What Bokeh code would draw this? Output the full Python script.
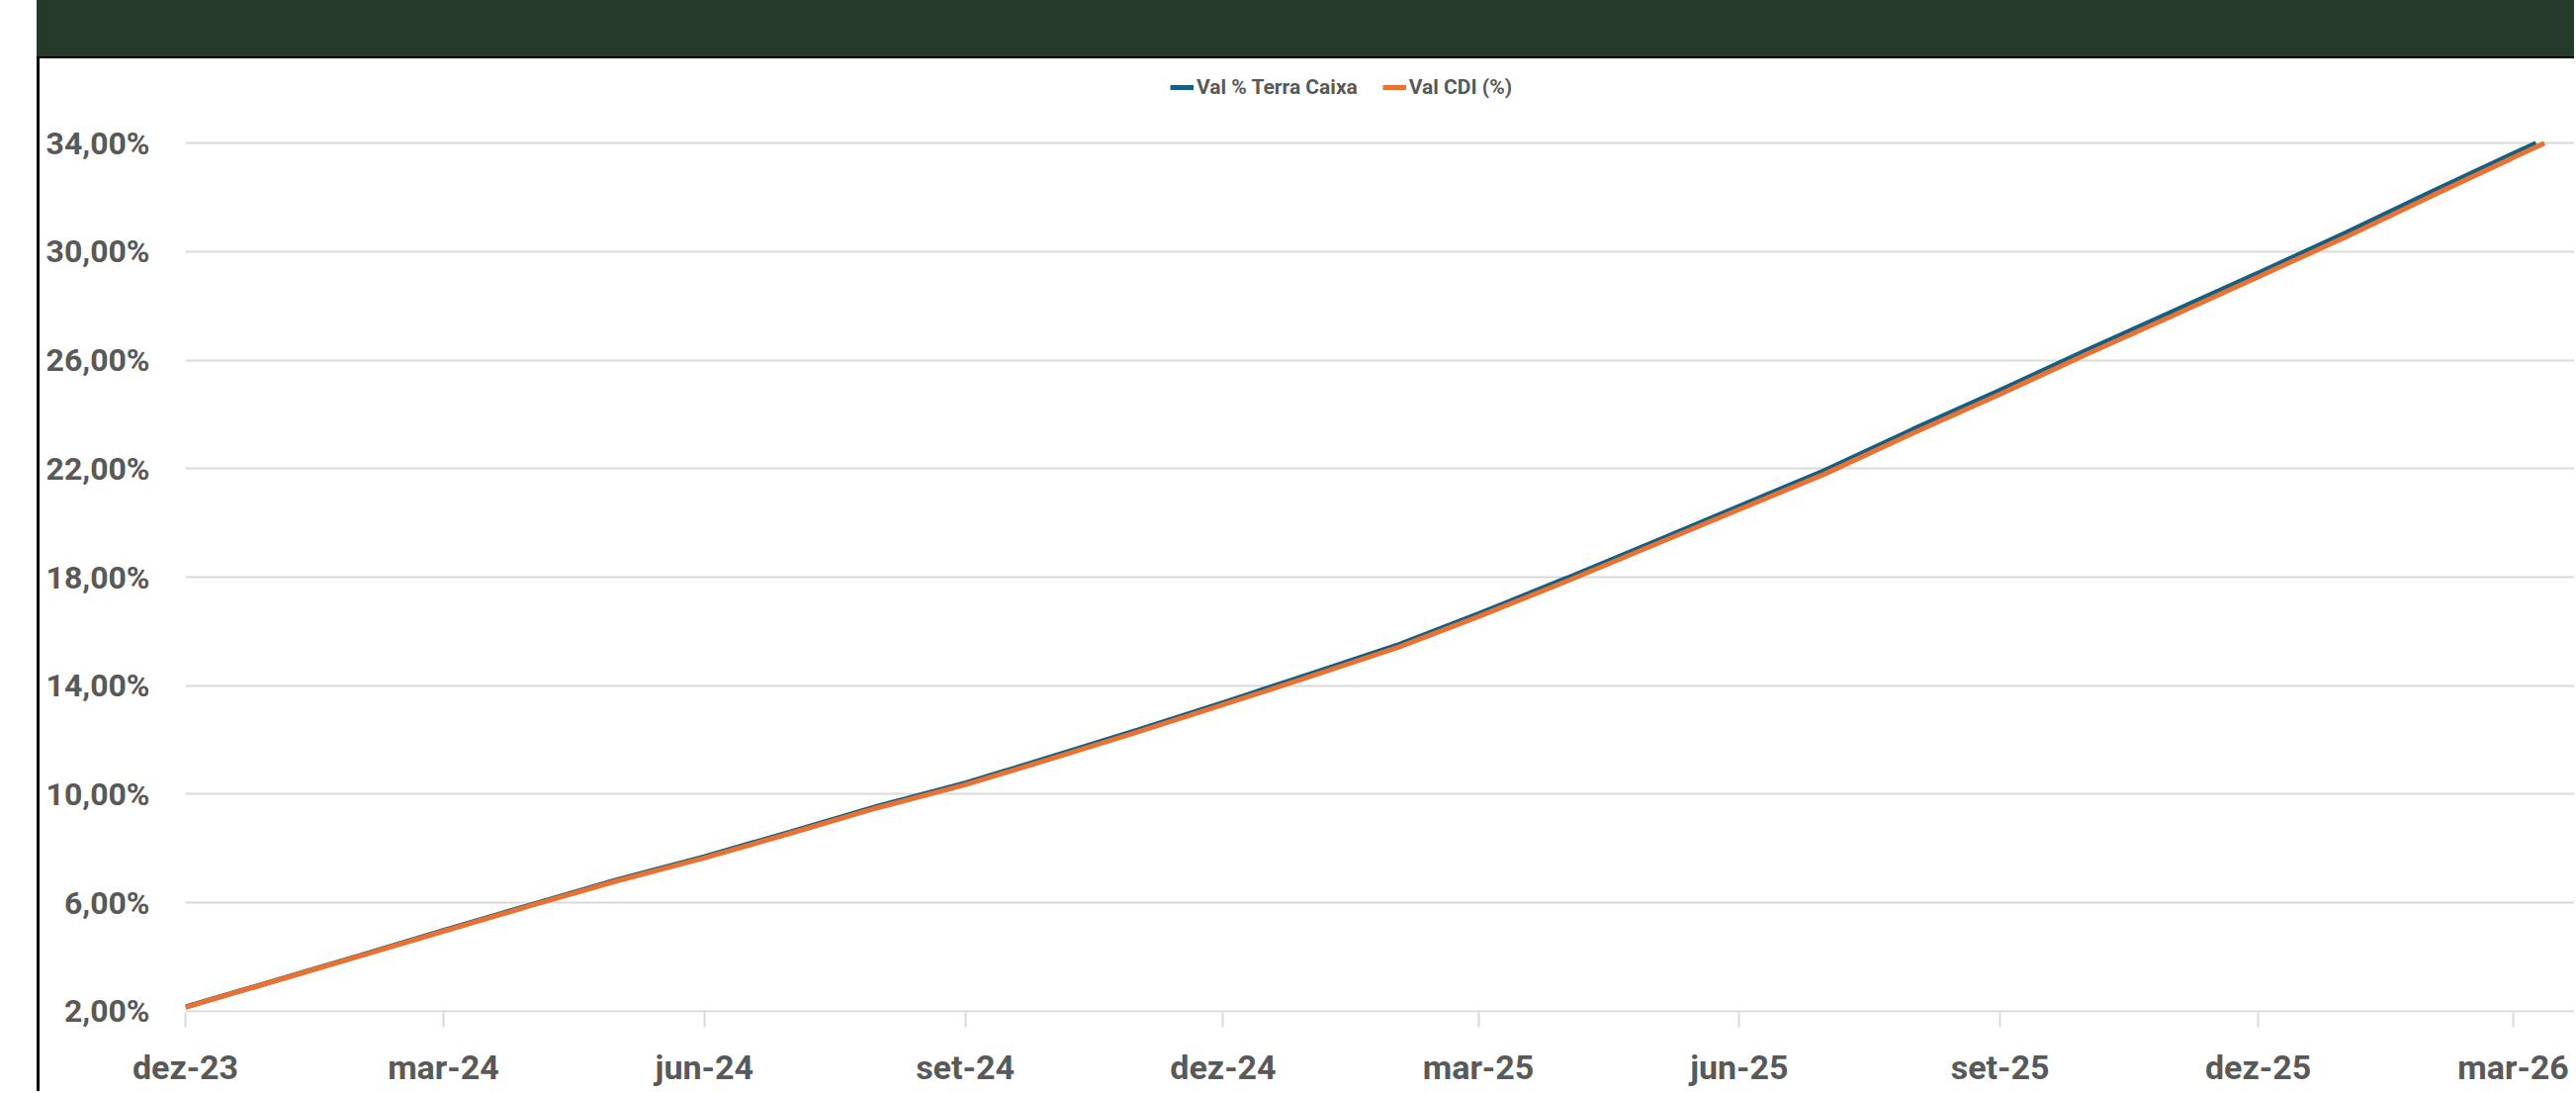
from datetime import datetime
from bokeh.plotting import figure
from bokeh.models import (Range1d, FixedTicker, Legend, LegendItem, Div, Spacer,
                          ColumnDataSource)
from bokeh.layouts import row, column
from bokeh.embed import file_html
from bokeh.resources import INLINE

# ---------------- data ----------------
dates = ["2023-12-01", "2024-01-01", "2024-02-01", "2024-03-01", "2024-04-01", "2024-05-01",
         "2024-06-01", "2024-07-01", "2024-08-01", "2024-09-01", "2024-10-01", "2024-11-01",
         "2024-12-01", "2025-01-01", "2025-02-01", "2025-03-01", "2025-04-01", "2025-05-01",
         "2025-06-01", "2025-07-01", "2025-08-01", "2025-09-01", "2025-10-01", "2025-11-01",
         "2025-12-01", "2026-01-01", "2026-02-01", "2026-03-01"]
val_terra_caixa = [2.16, 3.11, 4.07, 4.98, 5.93, 6.84, 7.70, 8.60, 9.56, 10.41, 11.37, 12.37,
                   13.38, 14.44, 15.52, 16.65, 17.96, 19.26, 20.62, 21.93, 23.44, 24.89, 26.34,
                   27.80, 29.21, 30.70, 32.25, 33.62]
val_cdi = [2.15, 3.10, 4.05, 4.95, 5.90, 6.80, 7.65, 8.55, 9.50, 10.35, 11.30, 12.30,
           13.30, 14.35, 15.43, 16.55, 17.85, 19.15, 20.50, 21.80, 23.30, 24.75, 26.20,
           27.65, 29.07, 30.55, 32.10, 33.47]
# last plotted day of each series (both reach the 34% top line)
terra_last = ("2026-03-09", 34.00)
cdi_last = ("2026-03-12", 34.00)
series_names = ["Val % Terra Caixa", "Val CDI (%)"]
x_tick_dates = ["2023-12-01", "2024-03-01", "2024-06-01", "2024-09-01", "2024-12-01",
                "2025-03-01", "2025-06-01", "2025-09-01", "2025-12-01", "2026-03-01"]
x_tick_labels = ["dez-23", "mar-24", "jun-24", "set-24", "dez-24",
                 "mar-25", "jun-25", "set-25", "dez-25", "mar-26"]
y_ticks = [2, 6, 10, 14, 18, 22, 26, 30, 34]
y_tick_labels = ["2,00%", "6,00%", "10,00%", "14,00%", "18,00%", "22,00%", "26,00%", "30,00%", "34,00%"]

# ---------------- style ----------------
FONT = "Roboto"
BLUE = "#156082"
ORANGE = "#E97132"
GRID = "#D9D9D9"
TXT = "#595959"
HEADER = "#263A2B"

def to_dt(s):
    return datetime.strptime(s, "%Y-%m-%d")

EPOCH = datetime(1970, 1, 1)
def to_ms(s):
    return int((to_dt(s) - EPOCH).total_seconds() * 1000)

src_t = ColumnDataSource(dict(x=[to_dt(d) for d in dates + [terra_last[0]]],
                              y=val_terra_caixa + [terra_last[1]]))
src_c = ColumnDataSource(dict(x=[to_dt(d) for d in dates + [cdi_last[0]]],
                              y=val_cdi + [cdi_last[1]]))

FIG_W, FIG_H = 2563, 1044
p = figure(width=FIG_W, height=FIG_H, x_axis_type="datetime", output_backend="svg",
           toolbar_location=None, title=None,
           x_range=Range1d(datetime(2023, 12, 1), datetime(2026, 3, 22, 14)),
           y_range=Range1d(1.96, 37.0),
           min_border_left=147, min_border_right=0, min_border_top=3, min_border_bottom=80)
p.outline_line_color = None
p.background_fill_color = "white"
p.border_fill_color = "white"

r1 = p.line("x", "y", source=src_t, color=BLUE, line_width=5)
r2 = p.line("x", "y", source=src_c, color=ORANGE, line_width=5)

# x axis
xt = [to_ms(d) for d in x_tick_dates]
p.xaxis.ticker = FixedTicker(ticks=xt)
p.xaxis.major_label_overrides = {t: l for t, l in zip(xt, x_tick_labels)}
p.xaxis.axis_line_color = None
p.xaxis.major_tick_line_color = GRID
p.xaxis.major_tick_line_width = 2
p.xaxis.major_tick_in = 0
p.xaxis.major_tick_out = 15
p.xaxis.minor_tick_line_color = None
p.xaxis.major_label_standoff = 20
p.xaxis.major_label_text_font = FONT
p.xaxis.major_label_text_font_style = "bold"
p.xaxis.major_label_text_font_size = "34px"
p.xaxis.major_label_text_color = TXT
p.xgrid.grid_line_color = None

# y axis
p.yaxis.ticker = FixedTicker(ticks=y_ticks)
p.yaxis.major_label_overrides = {t: l for t, l in zip(y_ticks, y_tick_labels)}
p.yaxis.axis_line_color = None
p.yaxis.major_tick_line_color = None
p.yaxis.minor_tick_line_color = None
p.yaxis.major_label_standoff = 30
p.yaxis.major_label_text_font = FONT
p.yaxis.major_label_text_font_style = "bold"
p.yaxis.major_label_text_font_size = "32px"
p.yaxis.major_label_text_color = TXT
p.ygrid.grid_line_color = GRID
p.ygrid.grid_line_width = 2

legend = Legend(items=[LegendItem(label=series_names[0], renderers=[r1]),
                       LegendItem(label=series_names[1], renderers=[r2])],
                orientation="horizontal", location=(996, 923))
legend.label_text_font = FONT
legend.label_text_font_size = "21px"
legend.label_text_font_style = "bold"
legend.label_text_color = TXT
legend.glyph_width = 24
legend.glyph_height = 20
legend.label_standoff = 3
legend.spacing = 25
legend.padding = 0
legend.margin = 0
legend.border_line_color = None
legend.background_fill_alpha = 0
p.add_layout(legend)

header = Div(text="", width=2566, height=57, margin=0, styles={"background-color": HEADER})
hline = Div(text="", width=2566, height=2, margin=0, styles={"background-color": "#000000"})
vline = Div(text="", width=3, height=FIG_H, margin=0, styles={"background-color": "#000000"})
layout = row(Spacer(width=37, height=1103, margin=0),
             column(header, hline, row(vline, p, spacing=0), spacing=0), spacing=0)

open("out.html", "w").write(file_html(layout, INLINE))
